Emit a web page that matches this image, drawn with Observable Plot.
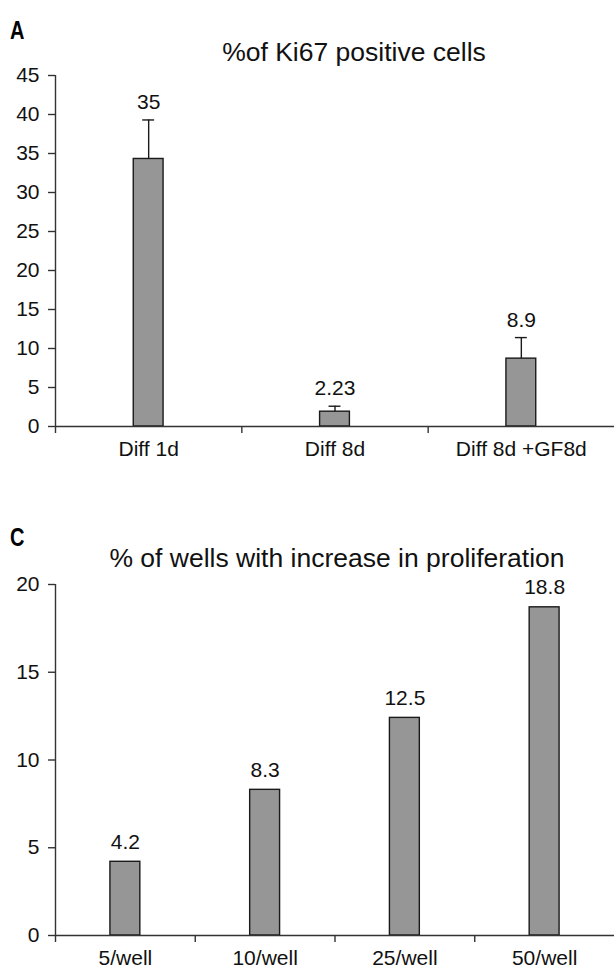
<!DOCTYPE html>
<html><head><meta charset="utf-8">
<script src="https://cdn.jsdelivr.net/npm/d3@7"></script>
<script src="https://cdn.jsdelivr.net/npm/@observablehq/plot@0.6"></script>
<style>
body{margin:0;background:#fff;}
#wrap{position:relative;width:614px;height:969px;overflow:hidden;font-family:"Liberation Sans",Arial,sans-serif;background:#fff;}
.panel{position:absolute;left:0;}
.letter{position:absolute;z-index:2;font-family:"Liberation Sans Narrow","Liberation Sans",sans-serif;font-weight:bold;font-size:25px;line-height:1;color:#000;transform:scaleX(0.8);transform-origin:left top;}
.title{position:absolute;z-index:2;font-size:26.5px;line-height:1;white-space:nowrap;color:#111;transform:translateX(-50%);}
</style></head>
<body><div id="wrap">
<div class="panel" id="pa" style="top:60px"></div>
<div class="panel" id="pc" style="top:570px"></div>
<div class="letter" style="left:10px;top:18px">A</div>
<div class="title" style="left:354px;top:39px">%of Ki67 positive cells</div>
<div class="letter" style="left:10px;top:525px">C</div>
<div class="title" style="left:337px;top:545px">% of wells with increase in proliferation</div>
</div>
<script>
// Panel A data
const catsA = ["Diff 1d", "Diff 8d", "Diff 8d +GF8d"];
const meanA = [34.3, 1.9, 8.7];
const errA = [5.0, 0.7, 2.7];
const labelA = ["35", "2.23", "8.9"];
const ticksA = [0, 5, 10, 15, 20, 25, 30, 35, 40, 45];

// Panel C data
const catsC = ["5/well", "10/well", "25/well", "50/well"];
const valC = [4.2, 8.3, 12.4, 18.7];
const labelC = ["4.2", "8.3", "12.5", "18.8"];
const ticksC = [0, 5, 10, 15, 20];

const AX = "#333";
const BAR_STROKE = "#1a1a1a";
const BAR_FILL = "#969696";
const FONT = "Liberation Sans, Arial, sans-serif";
const FS = 21;

const dataA = catsA.map((c, i) => ({i, c, m: meanA[i], e: errA[i], lab: labelA[i]}));
const dataC = catsC.map((c, i) => ({i, c, m: valC[i], lab: labelC[i]}));

const styleBase = {fontFamily: FONT, fontSize: FS + "px", color: "#111", background: "transparent", overflow: "visible"};

const plotA = Plot.plot({
  width: 614, height: 410,
  marginTop: 15, marginBottom: 44, marginLeft: 55, marginRight: 0,
  style: styleBase,
  x: {domain: [0, catsA.length]},
  y: {domain: [0, 45]},
  marks: [
    Plot.rectY(dataA, {x1: d => d.i + 0.5 - 0.08, x2: d => d.i + 0.5 + 0.08, y1: 0, y2: "m", fill: BAR_FILL, stroke: BAR_STROKE, strokeWidth: 1.4}),
    Plot.ruleX(dataA, {x: d => d.i + 0.5, y1: "m", y2: d => d.m + d.e, stroke: BAR_STROKE, strokeWidth: 1.4}),
    Plot.ruleY(dataA, {y: d => d.m + d.e, x1: d => d.i + 0.5 - 0.032, x2: d => d.i + 0.5 + 0.032, stroke: BAR_STROKE, strokeWidth: 1.4}),
    Plot.text(dataA, {x: d => d.i + 0.5, y: d => d.m + d.e, text: "lab", dy: -11, lineAnchor: "bottom", fontSize: FS, fill: "#111"}),
    Plot.axisY({ticks: ticksA, tickSize: 7, tickPadding: 9, fontSize: FS, stroke: AX, strokeWidth: 1.4, fill: "#111", label: null}),
    Plot.axisX({ticks: d3.range(0, catsA.length), tickSize: 7, tickFormat: () => "", stroke: AX, strokeWidth: 1.4, label: null}),
    Plot.axisX({ticks: dataA.map(d => d.i + 0.5), tickSize: 0, tickPadding: 15, tickFormat: v => catsA[Math.floor(v)], fontSize: FS, fill: "#111", label: null}),
    Plot.ruleY([0], {stroke: AX, strokeWidth: 1.4}),
    Plot.ruleX([0], {stroke: AX, strokeWidth: 1.4})
  ]
});
document.getElementById("pa").appendChild(plotA);

const plotC = Plot.plot({
  width: 614, height: 399,
  marginTop: 14, marginBottom: 34, marginLeft: 55, marginRight: 0,
  style: styleBase,
  x: {domain: [0, catsC.length]},
  y: {domain: [0, 20]},
  marks: [
    Plot.rectY(dataC, {x1: d => d.i + 0.5 - 0.107, x2: d => d.i + 0.5 + 0.107, y1: 0, y2: "m", fill: BAR_FILL, stroke: BAR_STROKE, strokeWidth: 1.4}),
    Plot.text(dataC, {x: d => d.i + 0.5, y: "m", text: "lab", dy: -13, lineAnchor: "bottom", fontSize: FS, fill: "#111"}),
    Plot.axisY({ticks: ticksC, tickSize: 7, tickPadding: 9, fontSize: FS, stroke: AX, strokeWidth: 1.4, fill: "#111", label: null}),
    Plot.axisX({ticks: d3.range(0, catsC.length), tickSize: 7, tickFormat: () => "", stroke: AX, strokeWidth: 1.4, label: null}),
    Plot.axisX({ticks: dataC.map(d => d.i + 0.5), tickSize: 0, tickPadding: 15, tickFormat: v => catsC[Math.floor(v)], fontSize: FS, fill: "#111", label: null}),
    Plot.ruleY([0], {stroke: AX, strokeWidth: 1.4}),
    Plot.ruleX([0], {stroke: AX, strokeWidth: 1.4})
  ]
});
document.getElementById("pc").appendChild(plotC);
</script>
</body></html>
